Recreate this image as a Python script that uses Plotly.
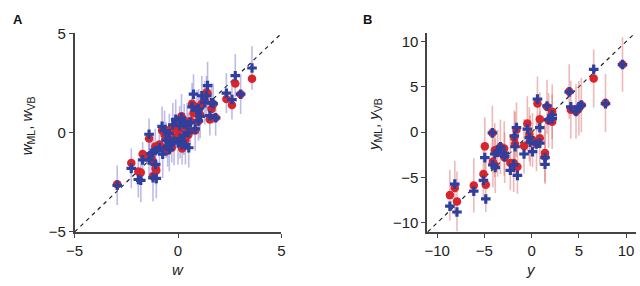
import plotly.graph_objects as go

# Panel A: weights
w_true = [-2.94, -2.26, -1.92, -1.80, -1.71, -1.40, -1.40, -1.21, -1.21, -1.08, -1.05, -0.90, -0.77, -0.74,
          -0.58, -0.42, -0.42, -0.30, -0.19, -0.11, 0.00, 0.08, 0.17, 0.28, 0.36, 0.44, 0.52, 0.60, 0.68,
          0.75, 0.83, 0.91, 0.99, 1.07, 1.15, 1.30, 1.38, 1.43, 1.54, 1.62, 1.70, 1.82, 2.34, 2.61, 2.77,
          3.03, 3.58, -0.65, -0.25, 0.10, 0.30, -1.30, -1.10, 0.50, 0.20, -0.50, 1.00]
w_ml = [-2.60, -1.53, -1.96, -2.00, -1.08, -0.29, -1.16, -1.48, -2.20, -1.80, -1.90, -0.60, 0.11, -0.76,
        -0.29, 0.14, -0.60, -0.76, -0.30, 0.50, -0.13, 0.19, 0.83, -0.29, -0.37, 0.27, 0.03, 0.59, 1.46,
        0.98, 0.11, 1.30, 0.59, 0.90, 1.46, 1.62, 2.02, 1.98, 0.67, 1.19, 1.43, 0.75, 1.70, 1.39, 2.48,
        1.94, 2.72, -0.10, 0.20, -0.45, 0.60, -1.30, -0.70, -0.10, -0.80, -0.90, 1.10]
w_vb = [-2.65, -1.80, -2.36, -2.40, -1.37, -0.08, -1.37, -1.00, -2.27, -1.60, -2.30, -0.76, 0.32, -1.08,
        -0.37, -0.05, -0.84, -0.50, -0.44, 0.67, -0.52, 0.35, 0.75, -0.13, -0.60, 0.40, -0.76, 0.51, 1.30,
        1.94, 0.19, 1.14, 0.59, 0.82, 1.86, 1.51, 1.86, 2.37, 0.86, 1.51, 1.46, 0.75, 1.99, 1.67, 2.87,
        1.94, 3.26, 0.10, 0.40, -0.30, 0.45, -1.05, -0.90, 0.00, -0.60, -0.70, 1.20]
w_err = [1.0, 1.0, 0.9, 1.1, 0.9, 0.8, 1.0, 1.0, 1.2, 1.0, 1.0, 1.1, 1.0, 1.2,
         0.9, 1.0, 1.1, 1.0, 1.2, 1.0, 1.1, 1.0, 1.2, 1.0, 1.0, 1.1, 1.0, 1.1, 1.2,
         1.0, 1.1, 1.0, 1.0, 1.1, 1.0, 1.1, 1.0, 1.2, 1.0, 1.0, 1.0, 0.9, 1.0, 1.0, 1.1,
         1.0, 1.1, 1.0, 1.1, 1.0, 1.0, 1.0, 1.1, 1.0, 1.0, 1.0, 1.0]

# Panel B: outputs
y_true = [-8.65, -8.13, -7.90, -6.12, -5.10, -4.95, -4.85, -4.15, -4.10, -3.90, -3.85, -3.60, -3.30, -2.90,
          -2.85, -2.25, -1.90, -1.83, -1.75, -1.60, -1.50, -0.80, -0.45, -0.24, -0.15, 0.10, 0.52, 0.62,
          0.87, 0.87, 1.42, 1.42, 1.63, 1.80, 2.18, 2.18, 3.98, 4.15, 4.70, 5.00, 5.26, 6.57, 7.82, 9.62]
y_ml = [-6.94, -6.15, -7.64, -5.87, -4.60, -1.56, -5.80, -0.07, -3.26, -1.98, -3.70, -2.30, -1.60, -1.80,
        -2.80, -3.40, -3.40, -0.60, -1.30, 0.28, -3.80, -1.53, 0.97, -0.24, -0.94, -0.87, -1.30, 3.16,
        1.42, -0.66, -2.30, -2.70, 2.80, 1.30, 2.26, 1.15, 4.50, 2.47, 2.30, 2.65, 3.00, 5.94, 3.23, 7.47]
y_vb = [-8.16, -5.73, -8.80, -6.50, -5.30, -2.80, -7.36, -0.07, -3.60, -2.40, -3.90, -2.20, -1.60, -2.30,
        -2.70, -4.20, -3.60, -0.40, -1.60, 0.52, -4.76, -2.40, 0.35, -0.60, -1.10, -2.15, -1.30, 3.65,
        0.50, -1.20, -2.80, -3.54, 2.90, 1.40, 1.90, 1.50, 4.45, 2.80, 2.30, 2.80, 3.00, 6.94, 3.16, 7.47]
y_err = [2.8, 3.0, 3.3, 3.0, 2.8, 3.2, 3.0, 3.0, 2.8, 3.0, 3.0, 2.6, 3.0, 3.0,
         2.8, 3.0, 3.2, 3.0, 3.5, 3.0, 3.0, 3.0, 3.0, 3.0, 2.8, 3.0, 3.0, 3.0,
         3.0, 3.0, 3.2, 3.0, 3.0, 3.0, 3.0, 3.0, 3.0, 3.2, 3.0, 3.0, 3.0, 3.2, 3.2, 3.0]

RED = "#d9242b"
BLUE = "#2e3f9e"
AXC = "#444444"
FONT = "Liberation Sans, Arial, sans-serif"

fig = go.Figure()

# Panel A
fig.add_trace(go.Scatter(x=[-5, 5], y=[-5, 5], mode="lines", xaxis="x", yaxis="y",
                         line=dict(color="#222", width=1.2, dash="4px,4px"), hoverinfo="skip"))
fig.add_trace(go.Scatter(x=w_true, y=w_vb, mode="markers", xaxis="x", yaxis="y",
                         marker=dict(opacity=0, size=1),
                         error_y=dict(type="data", array=w_err, color="rgba(110,105,200,0.45)",
                                      thickness=1.6, width=0)))
fig.add_trace(go.Scatter(x=w_true, y=w_ml, mode="markers", xaxis="x", yaxis="y",
                         marker=dict(symbol="circle", size=8.5, color=RED, line=dict(width=0))))
fig.add_trace(go.Scatter(x=w_true, y=w_vb, mode="markers", xaxis="x", yaxis="y",
                         marker=dict(symbol="cross", size=8, color=BLUE, line=dict(width=0))))

# Panel B
fig.add_trace(go.Scatter(x=[-11, 11], y=[-11, 11], mode="lines", xaxis="x2", yaxis="y2",
                         line=dict(color="#222", width=1.2, dash="4px,4px"), hoverinfo="skip"))
fig.add_trace(go.Scatter(x=y_true, y=y_ml, mode="markers", xaxis="x2", yaxis="y2",
                         marker=dict(opacity=0, size=1),
                         error_y=dict(type="data", array=y_err, color="rgba(220,115,115,0.5)",
                                      thickness=1.6, width=0)))
fig.add_trace(go.Scatter(x=y_true, y=y_ml, mode="markers", xaxis="x2", yaxis="y2",
                         marker=dict(symbol="circle", size=8.5, color=RED, line=dict(width=0))))
fig.add_trace(go.Scatter(x=y_true, y=y_vb, mode="markers", xaxis="x2", yaxis="y2",
                         marker=dict(symbol="cross", size=8, color=BLUE, line=dict(width=0))))

ax_common = dict(showline=True, linecolor=AXC, linewidth=1.5, ticks="outside", ticklen=4,
                 tickwidth=1.2, tickcolor=AXC, showgrid=False, zeroline=False,
                 tickfont=dict(family=FONT, size=15, color="#222"))

fig.update_layout(
    width=640, height=286, margin=dict(l=0, r=0, t=0, b=0),
    paper_bgcolor="white", plot_bgcolor="white", showlegend=False,
    font=dict(family=FONT, color="#222"),
    xaxis=dict(domain=[0.1047, 0.4344], range=[-5, 5], tickvals=[-5, 0, 5], anchor="y", **ax_common),
    yaxis=dict(domain=[0.1713, 0.9091], range=[-5, 5], tickvals=[-5, 0, 5], anchor="x", **ax_common),
    xaxis2=dict(domain=[0.667, 1.0], range=[-11.05, 11.05], tickvals=[-10, -5, 0, 5, 10], anchor="y2", **ax_common),
    yaxis2=dict(domain=[0.1713, 0.9091], range=[-11, 10.9], tickvals=[-10, -5, 0, 5, 10], anchor="x2", **ax_common),
    annotations=[
        dict(text="<b>A</b>", x=2 / 640, y=1 - 1 / 286, xref="paper", yref="paper",
             xanchor="left", yanchor="top", showarrow=False, font=dict(size=13, family=FONT, color="#111")),
        dict(text="<b>B</b>", x=359 / 640, y=1 - 1 / 286, xref="paper", yref="paper",
             xanchor="left", yanchor="top", showarrow=False, font=dict(size=13, family=FONT, color="#111")),
        dict(text="<i>w</i>", x=172 / 640, y=1 - 277 / 286, xref="paper", yref="paper",
             xanchor="center", yanchor="middle", showarrow=False, font=dict(size=15, family=FONT)),
        dict(text="<i>y</i>", x=533 / 640, y=1 - 277 / 286, xref="paper", yref="paper",
             xanchor="center", yanchor="middle", showarrow=False, font=dict(size=15, family=FONT)),
        dict(text="<i>w</i><sub>ML</sub>, <i>w</i><sub>VB</sub>", x=19 / 640, y=1 - 124 / 286,
             xref="paper", yref="paper", xanchor="center", yanchor="middle", textangle=-90,
             showarrow=False, font=dict(size=15, family=FONT)),
        dict(text="<i>y</i><sub>ML</sub>, <i>y</i><sub>VB</sub>", x=373 / 640, y=1 - 123 / 286,
             xref="paper", yref="paper", xanchor="center", yanchor="middle", textangle=-90,
             showarrow=False, font=dict(size=15, family=FONT)),
    ],
)

fig.write_html("out.html", config={"displayModeBar": False},
               post_script="document.body.style.margin='0';document.body.style.overflow='hidden';")
